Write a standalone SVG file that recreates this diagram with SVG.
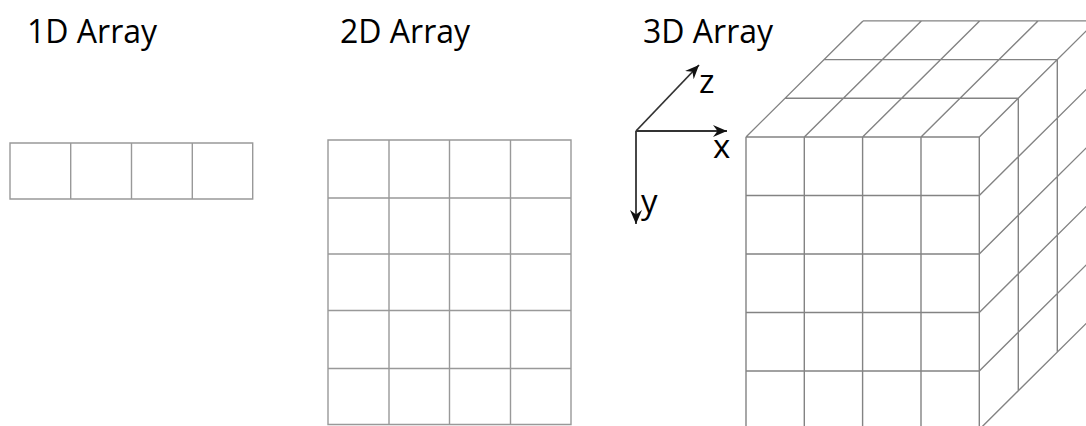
<svg xmlns="http://www.w3.org/2000/svg" width="1086" height="426" viewBox="0 0 1086 426">
  <style>
    .title { font-family: "Open Sans", "Liberation Sans", sans-serif; font-size: 32px; fill: #000; }
    .axis-label { font-family: "Open Sans", "Liberation Sans", sans-serif; font-size: 33px; fill: #000; }
    .grid2 { fill: none; stroke: #999; stroke-width: 1.4; }
    .grid3 { fill: none; stroke: #838383; stroke-width: 1.4; }
    .axis { fill: none; stroke: #333; stroke-width: 1.8; marker-end: url(#arrow); }
  </style>
  <defs>
    <marker id="arrow" markerUnits="userSpaceOnUse" markerWidth="15" markerHeight="12" refX="14" refY="6" orient="auto">
      <path d="M0,0 L14,6 L0,12 L4.5,6 z" fill="#111"/>
    </marker>
  </defs>
  <rect width="1086" height="426" fill="#fff"/>

  <g id="node-1d">
    <text class="title" x="27" y="43">1D Array</text>
    <path class="grid2" d="M10,143 H252.7 V199 H10 Z M70.7,143 V199 M131.5,143 V199 M192.3,143 V199"/>
  </g>

  <g id="node-2d">
    <text class="title" x="340" y="43">2D Array</text>
    <path class="grid2" d="M328,140 H571 V424.5 H328 Z
      M389,140 V424.5 M449.5,140 V424.5 M510.5,140 V424.5
      M328,198 H571 M328,254 H571 M328,310.5 H571 M328,368.5 H571"/>
  </g>

  <g id="node-3d">
    <text class="title" x="643" y="43">3D Array</text>
    <path class="grid3" d="
      M746,137 V429.5 M804.3,137 V429.5 M862.6,137 V429.5 M921,137 V429.5 M979.3,137 V429.5
      M746,137 H979.3 M746,195.5 H979.3 M746,254 H979.3 M746,312.5 H979.3 M746,371 H979.3 M746,429.5 H979.3
      M785,98.3 H1018.3 M824,59.6 H1057.3 M863,20.9 H1096.3
      M746,137 L863,20.9 M804.3,137 L921.3,20.9 M862.6,137 L979.6,20.9 M921,137 L1038,20.9 M979.3,137 L1096.3,20.9
      M1018.3,98.3 V390.8 M1057.3,59.6 V352.1 M1096.3,20.9 V313.4
      M979.3,195.5 L1096.3,79.4 M979.3,254 L1096.3,137.9 M979.3,312.5 L1096.3,196.4 M979.3,371 L1096.3,254.9 M979.3,429.5 L1096.3,313.4"/>
  </g>

  <g id="connectors">
    <line class="axis" x1="636" y1="131" x2="727" y2="131"/>
    <line class="axis" x1="636" y1="131" x2="636" y2="224"/>
    <line class="axis" x1="636" y1="131" x2="699" y2="65"/>
  </g>

  <g id="axis-labels">
    <text class="axis-label" x="699" y="93">z</text>
    <text class="axis-label" x="713" y="158">x</text>
    <text class="axis-label" x="641" y="213">y</text>
  </g>
</svg>
